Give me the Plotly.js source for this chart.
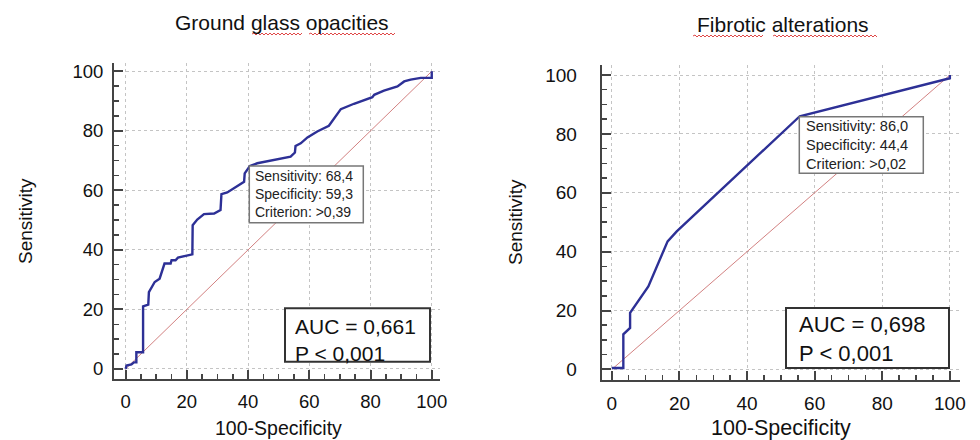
<!DOCTYPE html>
<html>
<head>
<meta charset="utf-8">
<script src="https://cdn.plot.ly/plotly-3.0.1.min.js"></script>
<style>html,body{margin:0;padding:0;background:#fff;}#chart{width:980px;height:440px;}</style>
</head>
<body>
<div id="chart"></div>
<script>
// ---- Data ----
const ggoX = [0,0.3,1.9,2.7,3.5,3.5,5.7,5.7,7.4,7.6,9.5,11.1,12.7,14.7,15.0,16.3,17.1,19.1,21.8,21.9,23.4,25.6,28.9,31.0,31.3,33.2,36.5,38.7,38.9,40.6,43.0,48.5,53.9,55.3,55.5,57.2,59.4,62.6,66.4,70.3,74.6,80.6,81.2,84.4,88.8,91.0,93.1,96.4,100,100];
const ggoY = [0,1.1,1.5,2.2,2.2,5.6,5.6,21,21.6,25.8,29.2,30.3,35.4,35.4,36.5,36.5,37.4,37.9,38.5,48.3,50.2,52.0,52.2,53.4,58.7,59.3,61.5,62.9,65.7,68.2,69.1,70.2,71.3,72.7,74.9,75.8,77.8,79.8,81.7,87.3,89.1,91.3,92.1,93.5,94.9,96.6,97.2,97.8,97.8,100];
const fibX = [0,3.4,3.4,5.4,5.4,10.8,16.5,19.2,55.6,97.0,100,100];
const fibY = [0.5,0.5,11.9,14.1,19.2,28.2,43.5,46.9,86.0,98.1,98.9,100];
const refX = [0,100];
const refY = [0,100];

const titles = ["Ground glass opacities", "Fibrotic alterations"];
const xTitle = "100-Specificity";
const yTitle = "Sensitivity";
const ggoCut = ["Sensitivity: 68,4", "Specificity: 59,3", "Criterion: &gt;0,39"];
const fibCut = ["Sensitivity: 86,0", "Specificity: 44,4", "Criterion: &gt;0,02"];
const ggoAuc = ["AUC = 0,661", "P &lt; 0,001"];
const fibAuc = ["AUC = 0,698", "P &lt; 0,001"];

// ---- helpers (pixel -> paper) ----
const W = 980, H = 440;
const px = x => x / W;
const py = y => 1 - y / H;
const FONT = "Liberation Sans, Arial, sans-serif";

const blue = '#2d3096';
const red = 'rgb(205,115,115)';

const traces = [
  {x: refX, y: refY, xaxis: 'x', yaxis: 'y', mode: 'lines', line: {color: red, width: 0.9}, hoverinfo: 'skip'},
  {x: ggoX, y: ggoY, xaxis: 'x', yaxis: 'y', mode: 'lines', line: {color: blue, width: 2.4}, hoverinfo: 'skip'},
  {x: refX, y: refY, xaxis: 'x2', yaxis: 'y2', mode: 'lines', line: {color: red, width: 0.9}, hoverinfo: 'skip'},
  {x: fibX, y: fibY, xaxis: 'x2', yaxis: 'y2', mode: 'lines', line: {color: blue, width: 2.4}, hoverinfo: 'skip'}
];

function axis(domain, range, anchor, fontSize, standoff) {
  return {
    domain: domain, range: range, anchor: anchor,
    tick0: 0, dtick: 20, ticks: 'inside', ticklen: 9, tickwidth: 2, tickcolor: '#444',
    minor: {dtick: 5, tick0: 0, ticks: 'inside', ticklen: 5, tickwidth: 1.5, tickcolor: '#444', showgrid: false},
    showline: true, linecolor: '#444', linewidth: 2,
    showgrid: true, gridcolor: '#c4c4c4', griddash: 'dot', gridwidth: 1,
    zeroline: false, ticklabelstandoff: standoff,
    tickfont: {family: FONT, size: fontSize, color: '#111'},
    fixedrange: true
  };
}

const shapes = [];
const annotations = [];

function txt(text, x, y, size, xanchor, color) {
  annotations.push({text: text, xref: 'paper', yref: 'paper', x: px(x), y: py(y),
    xanchor: xanchor || 'left', yanchor: 'middle', showarrow: false, align: 'left',
    font: {family: FONT, size: size, color: color || '#111'}});
}
function box(x0, y0, x1, y1, color, width) {
  shapes.push({type: 'rect', xref: 'paper', yref: 'paper', x0: px(x0), x1: px(x1), y0: py(y1), y1: py(y0),
    line: {color: color, width: width}, fillcolor: 'white', layer: 'above'});
}
function squiggle(x0, x1, y) {
  let d = 'M ' + px(x0) + ' ' + py(y);
  let up = true;
  for (let x = x0 + 2; x <= x1; x += 2) {
    d += ' L ' + px(x) + ' ' + py(y + (up ? -1 : 1));
    up = !up;
  }
  shapes.push({type: 'path', xref: 'paper', yref: 'paper', path: d, line: {color: '#e04848', width: 1}});
}

// titles
txt(titles[0], 282, 23, 21, 'center');
txt(titles[1], 783, 25, 21, 'center');
squiggle(252, 303, 34);
squiggle(309, 395, 34);
squiggle(693, 763, 36);
squiggle(773, 877, 36);

// axis titles
txt(xTitle, 278, 428, 19.5, 'center');
txt(xTitle, 781, 428, 21.5, 'center');
annotations.push({text: yTitle, xref: 'paper', yref: 'paper', x: px(25), y: py(221), textangle: -90,
  xanchor: 'center', yanchor: 'middle', showarrow: false, font: {family: FONT, size: 19, color: '#111'}});
annotations.push({text: yTitle, xref: 'paper', yref: 'paper', x: px(515), y: py(222), textangle: -90,
  xanchor: 'center', yanchor: 'middle', showarrow: false, font: {family: FONT, size: 19, color: '#111'}});

// cut-off boxes
box(249.3, 166, 363.3, 222.7, '#777', 1.5);
txt(ggoCut.join('<br>'), 253, 194.4, 14, 'left', '#222');

box(799.3, 116.7, 923.3, 173.3, '#777', 1.5);
txt(fibCut.join('<br>'), 803.5, 145, 14.6, 'left', '#222');

// AUC boxes
box(285, 308.3, 430, 361.7, '#333', 2);
txt(ggoAuc.join('<br>'), 293, 339.5, 21, 'left');

box(786, 308, 949, 368, '#333', 2);
txt(fibAuc.join('<br>'), 796.7, 339, 22, 'left');

const layout = {
  width: W, height: H,
  margin: {l: 0, r: 0, t: 0, b: 0},
  paper_bgcolor: 'white', plot_bgcolor: 'white',
  showlegend: false,
  xaxis: axis([114/W, 440/W], [-3.8, 102.7], 'y', 18.5, 5),
  yaxis: axis([1 - 379/H, 1 - 63/H], [-3.4, 102.8], 'x', 18.5, 5),
  xaxis2: axis([601.7/W, 960/W], [-3.0, 103], 'y2', 19, 5),
  yaxis2: axis([1 - 380/H, 1 - 65/H], [-3.6, 103.4], 'x2', 19, 19),
  shapes: shapes,
  annotations: annotations
};

Plotly.newPlot('chart', traces, layout, {staticPlot: true, displayModeBar: false});
</script>
</body>
</html>
